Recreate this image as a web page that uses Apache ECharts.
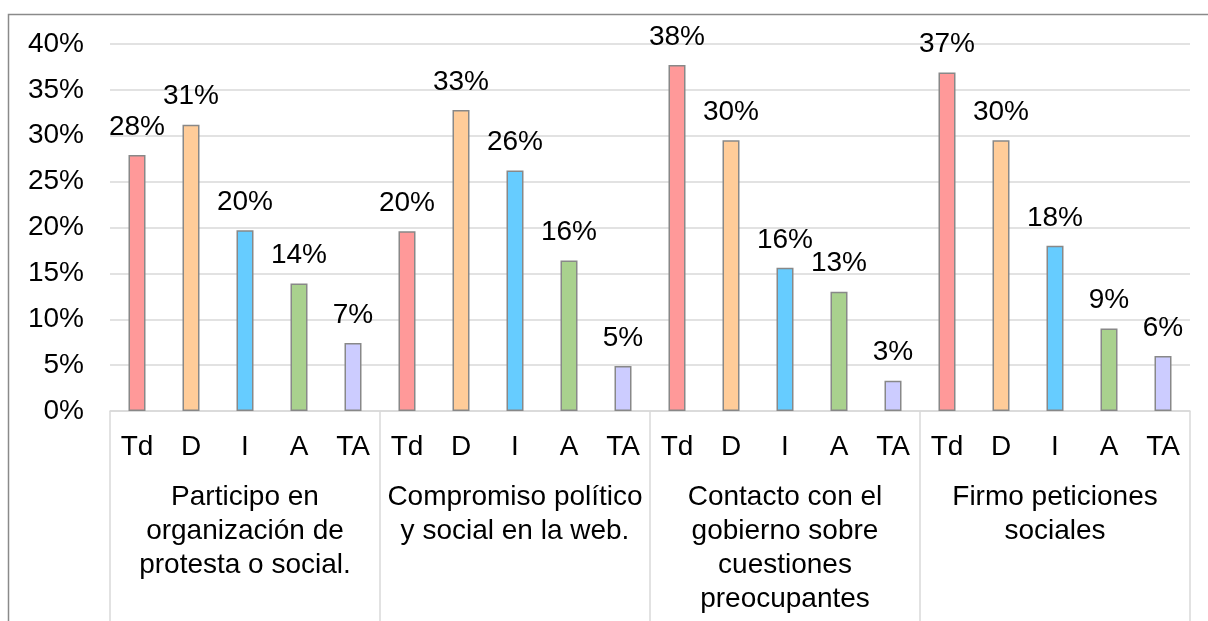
<!DOCTYPE html>
<head>
    <title>ECharts</title>
    <script src="https://cdn.jsdelivr.net/npm/echarts@6/dist/echarts.min.js"></script>
    <style>
        html, body { margin: 0; padding: 0; background: #fff; }
    </style>
</head>
<body>
    <div id="main" style="width:1208px;height:621px"></div>
    <script type="text/javascript">
        // answer options inside each group
        var answers = ['Td', 'D', 'I', 'A', 'TA'];
        var answerColors = ['#FF9999', '#FFCC99', '#66CCFF', '#A9D18E', '#CCCCFF'];

        // group labels (x axis, second row)
        var groups = [
            'Participo en\norganización de\nprotesta o social.',
            'Compromiso político\ny social en la web.',
            'Contacto con el\ngobierno sobre\ncuestiones\npreocupantes',
            'Firmo peticiones\nsociales'
        ];

        // percentages, one array per group (Td, D, I, A, TA)
        var participo   = [27.9, 31.2, 19.7, 13.9, 7.4];
        var compromiso  = [19.6, 32.8, 26.2, 16.4, 4.9];
        var contacto    = [37.7, 29.5, 15.6, 13.0, 3.3];
        var firmo       = [36.9, 29.5, 18.0, 9.0, 6.0];

        var yTicks = [0, 5, 10, 15, 20, 25, 30, 35, 40];

        var groupValues = [participo, compromiso, contacto, firmo];
        var xCats = [];
        var barData = [];
        for (var g = 0; g < groupValues.length; g++) {
            for (var i = 0; i < answers.length; i++) {
                xCats.push(answers[i]);
                barData.push({
                    value: groupValues[g][i],
                    itemStyle: { color: answerColors[i] }
                });
            }
        }

        var font = 'Liberation Sans, Arial, sans-serif';
        var myChart = echarts.init(document.getElementById('main'));

        var option = {
            animation: false,
            backgroundColor: '#fff',
            textStyle: { fontFamily: font },
            graphic: [{
                type: 'rect',
                shape: { x: 8.5, y: 14.5, width: 1220, height: 640 },
                style: { fill: 'none', stroke: '#8a8a8a', lineWidth: 1.5 },
                silent: true
            }],
            grid: { left: 110, right: 18, top: 44, bottom: 210 },
            xAxis: [
                {
                    type: 'category',
                    data: xCats,
                    boundaryGap: true,
                    axisLine: { show: true, lineStyle: { color: '#d9d9d9', width: 1.5 } },
                    axisTick: { show: false },
                    axisLabel: {
                        interval: 0, margin: 20, color: '#000',
                        fontFamily: font, fontSize: 28, lineHeight: 32
                    }
                },
                {
                    type: 'category',
                    position: 'bottom',
                    data: groups,
                    boundaryGap: true,
                    axisLine: { show: false },
                    axisTick: {
                        show: true, interval: 0, length: 215,
                        lineStyle: { color: '#d9d9d9', width: 1.5 }
                    },
                    axisLabel: {
                        interval: 0, margin: 69, color: '#000',
                        fontFamily: font, fontSize: 28, lineHeight: 34,
                        align: 'center'
                    }
                }
            ],
            yAxis: {
                type: 'value',
                min: yTicks[0],
                max: yTicks[yTicks.length - 1],
                interval: 5,
                axisLine: { show: false },
                axisTick: { show: false },
                splitLine: { lineStyle: { color: '#d9d9d9', width: 1.5 } },
                axisLabel: {
                    formatter: '{value}%', margin: 26, color: '#000',
                    fontFamily: font, fontSize: 28
                }
            },
            series: [{
                type: 'bar',
                xAxisIndex: 0,
                barWidth: 17,
                data: barData,
                itemStyle: { borderColor: '#888', borderWidth: 1.5 },
                label: {
                    show: true,
                    position: 'top',
                    distance: 14,
                    color: '#000',
                    fontFamily: font,
                    fontSize: 28,
                    formatter: function (p) { return Math.round(p.value) + '%'; }
                }
            }]
        };

        myChart.setOption(option);
    </script>
</body>
